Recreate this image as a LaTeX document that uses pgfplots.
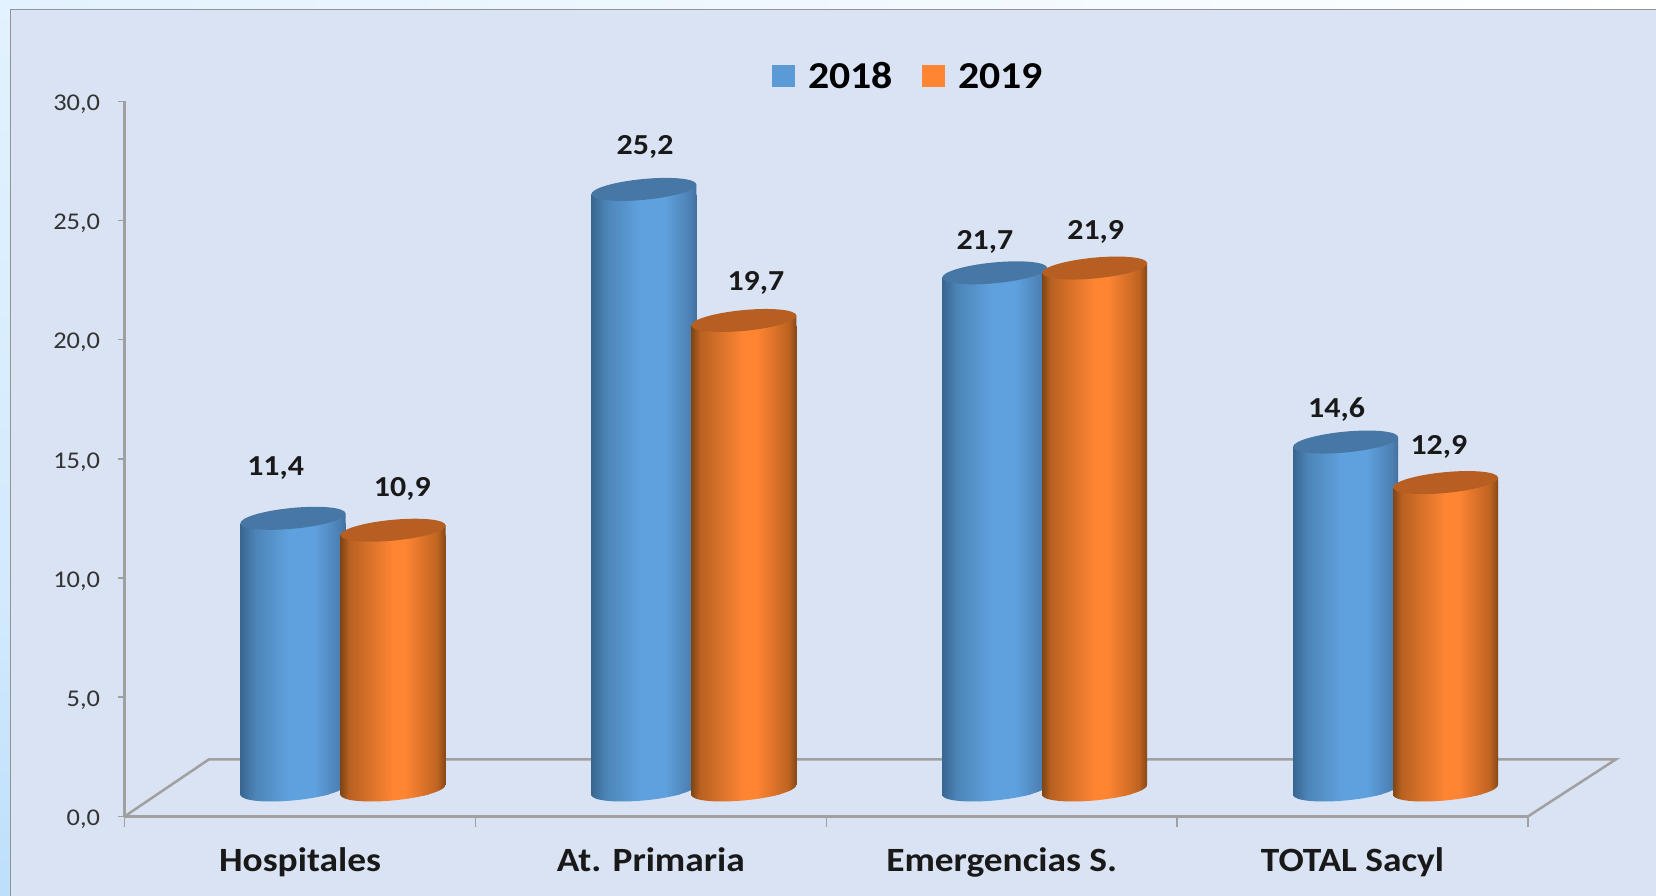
\documentclass[border=0pt]{standalone}
\usepackage{fontspec}
\setmainfont[FakeStretch=1.1]{Carlito}
\usepackage{pgfplots}
\usepackage{pgfplotstable}
\pgfplotsset{compat=1.18}
\definecolor{panel}{HTML}{DAE3F3}
\definecolor{axisgray}{HTML}{A0A0A0}
\definecolor{legblue}{HTML}{5B9BD5}
\definecolor{legorange}{HTML}{FF8533}
\definecolor{topblue}{HTML}{4677A5}
\definecolor{toporange}{HTML}{B75F22}
\definecolor{stripA}{HTML}{E2F2FE}
\definecolor{stripB}{HTML}{D2EAFD}
\definecolor{stripC}{HTML}{BDDFFB}
\pgfdeclarehorizontalshading{cylblue}{100bp}{rgb(0bp)=(0.22,0.40,0.57); rgb(25bp)=(0.22,0.40,0.57); rgb(32bp)=(0.30,0.52,0.72); rgb(48bp)=(0.37,0.63,0.87); rgb(60bp)=(0.37,0.63,0.87); rgb(72bp)=(0.30,0.50,0.70); rgb(75bp)=(0.26,0.44,0.62); rgb(100bp)=(0.26,0.44,0.62)}
\pgfdeclarehorizontalshading{cylorange}{100bp}{rgb(0bp)=(0.50,0.27,0.08); rgb(25bp)=(0.50,0.27,0.08); rgb(29bp)=(0.72,0.38,0.13); rgb(50bp)=(1,0.52,0.2); rgb(56bp)=(1,0.52,0.2); rgb(71bp)=(0.75,0.39,0.13); rgb(75bp)=(0.53,0.28,0.09); rgb(100bp)=(0.53,0.28,0.09)}
% #1 name, #2 horizontal bar shift, #3 shading, #4 colour of the top
\newcommand\cylellipse[1]{\pgfpathellipse{\pgfpoint{#1pt}{5pt}}{\pgfpoint{52.5pt}{5pt}}{\pgfpoint{-0.98pt}{10.35pt}}}
\newcommand\defcyl[4]{%
  \pgfdeclareplotmark{top#1}{%
    \path[draw=none,shading=#3] (#2pt-52.5pt,0pt) -- (#2pt+52.5pt,10pt) -- (#2pt+52.5pt,-1pt) -- (#2pt-52.5pt,-1pt) -- cycle;
    \begin{pgfscope}\cylellipse{#2}\pgfsetfillcolor{#4}\pgfusepath{fill}\end{pgfscope}
  }%
  \pgfdeclareplotmark{base#1}{%
    % the part of the square foot of the bar that lies outside the round foot
    \begin{pgfscope}
      \pgfpathrectangle{\pgfpoint{#2pt+20pt}{-3pt}}{\pgfpoint{34pt}{13pt}}\pgfusepath{clip}
      \pgfseteorule
      \pgfpathrectangle{\pgfpoint{#2pt}{-20pt}}{\pgfpoint{70pt}{50pt}}\cylellipse{#2}
      \pgfsetfillcolor{panel}\pgfusepath{fill}\end{pgfscope}
    % the round foot: lower part only
    \begin{pgfscope}
      \pgfpathrectangle{\pgfpoint{#2pt-60pt}{-20pt}}{\pgfpoint{120pt}{20.5pt}}\pgfusepath{clip}
      \cylellipse{#2}\pgfshadepath{#3}{0}\pgfusepath{discard}\end{pgfscope}
  }%
}
\defcyl{A}{-50}{cylblue}{topblue}
\defcyl{B}{50}{cylorange}{toporange}
\pgfplotstableread{
x v dx dy
0 11.4 -67.4 55.1
1 25.2 -48.8 47.3
2 21.7 -59.8 35.7
3 14.6 -59 37
}\tableA
\pgfplotstableread{
x v dx dy
0 10.9 59.3 46
1 19.7 62 42.1
2 21.9 51 41.4
3 12.9 43.3 40.5
}\tableB
\pgfplotsset{
  /pgf/number format/.cd,fixed,fixed zerofill,precision=1,use comma,assume math mode=true,
  /pgfplots/.cd,
  cylbar/.style={ybar,bar width=105pt,draw=none,
    visualization depends on={\thisrow{dx}\as\ldx},
    visualization depends on={\thisrow{dy}\as\ldy},
    nodes near coords,
    nodes near coords style={anchor=center,xshift=\ldx pt,yshift=\ldy pt,text=black!90,
      font=\bfseries\fontsize{29}{29}\selectfont}},
}
\begin{document}
\begin{tikzpicture}[x=1pt,y=1pt]
\useasboundingbox (0,0) rectangle (1656,895);
\shade[left color=stripA,right color=white] (0,885) rectangle (1656,895);
\shade[top color=stripB,bottom color=stripC] (0,0) rectangle (11,300);
\shade[top color=stripA,bottom color=stripB] (0,300) rectangle (11,895);
\fill[panel,draw=gray!85,line width=1.5pt] (10.5,-5) -- (10.5,885.5) -- (1670,885.5) -- (1670,-5) -- cycle;
% frame of the chart
\begin{axis}[
  at={(124.6pt,78.6pt)},anchor=south west,scale only axis,width=1403.4pt,height=715pt,
  xmin=-0.5,xmax=3.5,ymin=0,ymax=30,clip=false,
  axis x line=bottom,axis y line=left,
  axis line style={-,axisgray,line width=2.5pt},
  ytick={0,5,...,30},
  xtick={0,1,2,3},
  xticklabels={Hospitales,At. Primaria,Emergencias S.,TOTAL Sacyl},
  xtick style={draw=none},
  extra x ticks={-0.5,0.5,1.5,2.5,3.5},
  extra x tick labels={},
  extra x tick style={xtick style={draw=axisgray,line width=1.5pt},major tick length=11pt},
  ytick style={draw=axisgray,line width=1.5pt},
  major tick length=7pt,
  tick align=outside,
  yticklabel style={font=\fontsize{24}{24}\selectfont,text=black!80,
     /pgf/number format/fixed,/pgf/number format/fixed zerofill,/pgf/number format/precision=1,/pgf/number format/use comma,xshift=-14pt,yshift=-3pt},
  xticklabel style={font=\bfseries\fontsize{34}{34}\selectfont,text=black!90,yshift=-21pt},
  legend style={at={(0.5585,1.035)},anchor=center,legend columns=2,draw=none,fill=none,
     font=\bfseries\fontsize{38}{38}\selectfont,/tikz/every even column/.style={column sep=27pt}},
  legend image code/.code={\fill[draw=none,#1] (0pt,-10.5pt) rectangle (23pt,11pt);\path (34pt,0pt);},
]
\addlegendimage{fill=legblue}\addlegendentry{2018}
\addlegendimage{fill=legorange}\addlegendentry{2019}
\addplot[axisgray,line width=2.5pt,forget plot] coordinates {(-0.5,0) (-0.2594,2.396) (3.7508,2.396) (3.5,0)};
\end{axis}
% cylinders
\begin{axis}[
  at={(167.6pt,100pt)},anchor=south west,scale only axis,width=1403.4pt,height=715pt,
  xmin=-0.5,xmax=3.5,ymin=0,ymax=30,clip=false,clip mode=individual,hide axis,
]
\pgfplotsinvokeforeach{0,1,2,3}{
  \addplot[cylbar,bar shift=-50pt,shading=cylblue,restrict x to domain=#1:#1] table[x=x,y=v] {\tableA};
  \addplot[only marks,mark=baseA,restrict x to domain=#1:#1] table[x=x,y expr=0] {\tableA};
  \addplot[only marks,mark=topA,restrict x to domain=#1:#1] table[x=x,y=v] {\tableA};
  \addplot[cylbar,bar shift=50pt,shading=cylorange,restrict x to domain=#1:#1] table[x=x,y=v] {\tableB};
  \addplot[only marks,mark=baseB,restrict x to domain=#1:#1] table[x=x,y expr=0] {\tableB};
  \addplot[only marks,mark=topB,restrict x to domain=#1:#1] table[x=x,y=v] {\tableB};
}
\end{axis}
\end{tikzpicture}
\end{document}
